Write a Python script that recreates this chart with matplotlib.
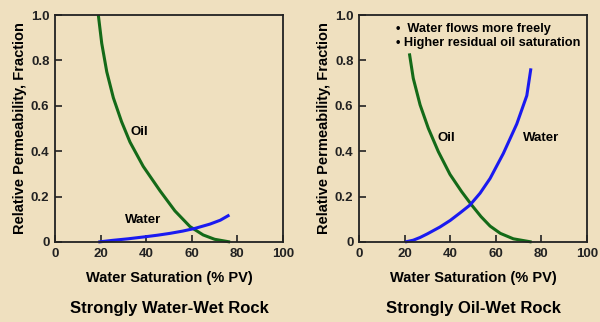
import numpy as np
import matplotlib.pyplot as plt

plt.rcParams['font.family'] = ['Liberation Sans', 'DejaVu Sans']
plt.rcParams['font.weight'] = 'bold'

# water-wet rock
ww_sw_oil = [19.0, 20.5, 22.7, 25.6, 29.2, 32.9, 38.7, 46.1, 52.6, 59.2, 65.0, 70.0, 76.8]
ww_kro = [1.0, 0.875, 0.75, 0.635, 0.53, 0.44, 0.333, 0.225, 0.137, 0.068, 0.031, 0.012, 0.0]
ww_sw_wat = [19.0, 25.0, 32.0, 39.5, 45.0, 50.4, 56.0, 61.4, 68.0, 72.5, 76.5]
ww_krw = [0.0, 0.007, 0.014, 0.023, 0.03, 0.038, 0.048, 0.06, 0.079, 0.096, 0.119]

# oil-wet rock
ow_sw_oil = [22.1, 23.8, 26.8, 30.4, 34.8, 39.9, 45.0, 49.4, 53.5, 57.5, 62.0, 67.7, 75.7]
ow_kro = [0.831, 0.721, 0.604, 0.501, 0.398, 0.298, 0.222, 0.163, 0.112, 0.07, 0.038, 0.014, 0.0]
ow_sw_wat = [20.2, 23.8, 26.8, 30.0, 35.5, 40.0, 44.3, 48.7, 53.1, 57.5, 63.3, 69.2, 73.6, 75.4]
ow_krw = [0.0, 0.008, 0.02, 0.036, 0.066, 0.095, 0.128, 0.163, 0.215, 0.28, 0.39, 0.52, 0.645, 0.765]

xticks = [0, 20, 40, 60, 80, 100]
yticks = [0, 0.2, 0.4, 0.6, 0.8, 1.0]
ytick_labels = ['0', '0.2', '0.4', '0.6', '0.8', '1.0']

bg = '#EFE0BF'
green = '#146A18'
blue = '#1A1AF0'

fig = plt.figure(figsize=(6, 3.22), dpi=100, facecolor=bg)
ax1 = fig.add_axes([55/600, 1 - 242/322, 228/600, 227/322])
ax2 = fig.add_axes([359/600, 1 - 242/322, 228/600, 227/322])


def style(ax, title):
    ax.set_facecolor(bg)
    ax.set_xlim(0, 100)
    ax.set_ylim(0, 1.0)
    ax.set_xticks(xticks)
    ax.set_yticks(yticks)
    ax.set_yticklabels(ytick_labels)
    ax.tick_params(direction='in', length=5, width=1.2, labelsize=9.5,
                   colors='#222222', pad=4)
    for s in ax.spines.values():
        s.set_linewidth(1.3)
        s.set_color('#222222')
    ax.set_xlabel('Water Saturation (% PV)', fontsize=10.5, fontweight='bold',
                  labelpad=8)
    ax.set_ylabel('Relative Permeability, Fraction', fontsize=10.5,
                  fontweight='bold', labelpad=3)
    pos = ax.get_position()
    fig.text((pos.x0 + pos.x1) / 2, 1 - 308/322, title, ha='center',
             va='center', fontsize=12, fontweight='bold')


line_kw = dict(lw=2.2, clip_on=False, solid_joinstyle='round',
               solid_capstyle='butt')

style(ax1, 'Strongly Water-Wet Rock')
ax1.plot(ww_sw_oil, ww_kro, color=green, **line_kw)
ax1.plot(ww_sw_wat, ww_krw, color=blue, **line_kw)
ax1.text(37, 0.485, 'Oil', fontsize=9.5, fontweight='bold', ha='center', va='center')
ax1.text(38.7, 0.096, 'Water', fontsize=9.5, fontweight='bold', ha='center', va='center')

style(ax2, 'Strongly Oil-Wet Rock')
ax2.plot(ow_sw_oil, ow_kro, color=green, **line_kw)
ax2.plot(ow_sw_wat, ow_krw, color=blue, **line_kw)
ax2.text(38.3, 0.456, 'Oil', fontsize=9.5, fontweight='bold', ha='center', va='center')
ax2.text(80, 0.456, 'Water', fontsize=9.5, fontweight='bold', ha='center', va='center')
ax2.text(16.4, 0.94, '\u2022  Water flows more freely', fontsize=9.2,
         fontweight='bold', va='center')
ax2.text(16.4, 0.875, '\u2022 Higher residual oil saturation', fontsize=9.2,
         fontweight='bold', va='center')

fig.savefig('out.png', dpi=100, facecolor=bg)
